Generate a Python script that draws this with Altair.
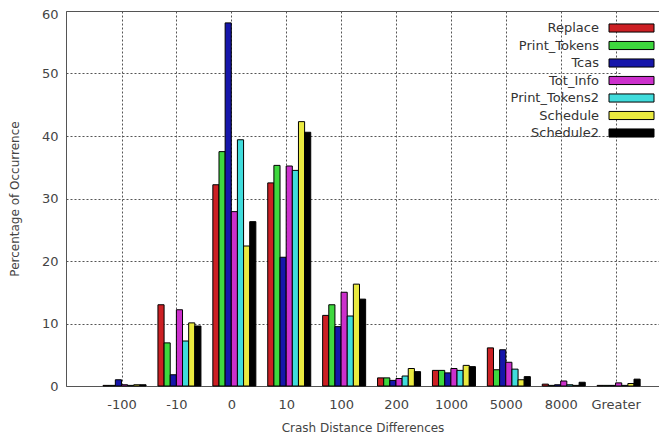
import altair as alt
import pandas as pd

categories = ["-100", "-10", "0", "10", "100", "200", "1000", "5000", "8000", "Greater"]
series = ["Replace", "Print_Tokens", "Tcas", "Tot_Info", "Print_Tokens2", "Schedule", "Schedule2"]
colors = ["#cc2024", "#3ed83e", "#1616aa", "#cc30cc", "#40dcdc", "#eaea40", "#000000"]

replace = [0.1, 13.0, 32.2, 32.5, 11.3, 1.3, 2.5, 6.1, 0.3, 0.1]
print_tokens = [0.1, 6.9, 37.5, 35.3, 13.0, 1.3, 2.5, 2.6, 0.1, 0.1]
tcas = [1.0, 1.8, 58.1, 20.6, 9.5, 0.9, 2.1, 5.8, 0.2, 0.1]
tot_info = [0.2, 12.2, 27.9, 35.2, 15.0, 1.2, 2.8, 3.8, 0.8, 0.5]
print_tokens2 = [0.1, 7.2, 39.4, 34.5, 11.2, 1.6, 2.5, 2.7, 0.2, 0.1]
schedule = [0.2, 10.1, 22.4, 42.3, 16.3, 2.8, 3.3, 1.0, 0.1, 0.4]
schedule2 = [0.2, 9.6, 26.3, 40.6, 13.9, 2.3, 3.1, 1.5, 0.6, 1.1]

values = [replace, print_tokens, tcas, tot_info, print_tokens2, schedule, schedule2]

rows = []
for name, vals in zip(series, values):
    for cat, v in zip(categories, vals):
        rows.append({"category": cat, "series": name, "value": v})
df = pd.DataFrame(rows)

font = "DejaVu Sans"
rect_path = "M-5,-0.9L5,-0.9L5,0.9L-5,0.9Z"

chart = alt.Chart(df).mark_bar(stroke="black", strokeWidth=1).encode(
    x=alt.X(
        "category:N",
        sort=categories,
        scale=alt.Scale(paddingInner=0, paddingOuter=0.4007, align=0.65),
        axis=alt.Axis(
            title="Crash Distance Differences",
            labelAngle=0,
            tickSize=0,
            labelPadding=12,
            titlePadding=11,
            grid=True,
            bandPosition=0.5,
            domain=False,
        ),
    ),
    xOffset=alt.XOffset(
        "series:N",
        sort=series,
        scale=alt.Scale(range=[8.45, 51.45], paddingInner=0, paddingOuter=0),
    ),
    y=alt.Y(
        "value:Q",
        scale=alt.Scale(domain=[0, 60], nice=False),
        axis=alt.Axis(
            title="Percentage of Occurrence",
            values=[0, 10, 20, 30, 40, 50, 60],
            tickSize=0,
            labelPadding=8,
            labelOffset={"condition": {"test": "datum.value == 60", "value": 3.5}, "value": 0},
            titlePadding=20,
            grid=True,
            domain=False,
        ),
    ),
    color=alt.Color(
        "series:N",
        sort=series,
        scale=alt.Scale(domain=series, range=colors),
        legend=alt.Legend(
            title=None,
            orient="none",
            legendX=555,
            legendY=6.5,
            symbolType=rect_path,
            symbolSize=81,
            symbolStrokeColor="black",
            symbolStrokeWidth=1,
            symbolOpacity=1,
            labelAlign="right",
            labelOffset={"expr": "-39"},
            labelFontSize=13,
            labelFont=font,
            labelColor="#333333",
            rowPadding=3.5,
            fillColor="white",
            padding=4,
        ),
    ),
).properties(
    width=593,
    height=375,
    padding={"left": 58, "top": 3, "right": 0, "bottom": 47},
    autosize=alt.AutoSizeParams(type="none"),
).configure_view(
    stroke="#555555",
    strokeWidth=1,
).configure_axis(
    gridColor="#555555",
    gridDash=[2, 2],
    gridWidth=1,
    gridOpacity=1,
    labelFont=font,
    labelFontSize=13,
    labelColor="#444444",
    titleFont=font,
    titleFontSize=12,
    titleFontWeight="normal",
    titleColor="#444444",
)

chart.save("out.html", embed_options={"renderer": "svg", "actions": False})
